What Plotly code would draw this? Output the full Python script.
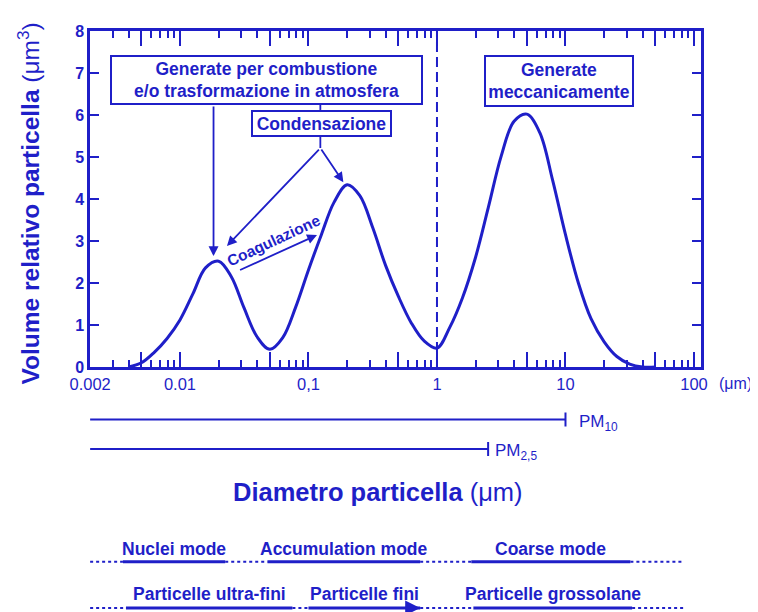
import math
import plotly.graph_objects as go

BLUE = '#1f1fc8'
FONT = 'Liberation Sans, Arial, Helvetica, sans-serif'

# ---- data ----
diameter_um = [0.00398, 0.00501, 0.00631, 0.00794, 0.0100, 0.0126, 0.0158, 0.0200,
               0.0251, 0.0316, 0.0398, 0.0501, 0.0631, 0.0794, 0.100, 0.126,
               0.158, 0.200, 0.251, 0.316, 0.398, 0.501, 0.631, 0.794,
               1.00, 1.26, 1.58, 2.00, 2.51, 3.16, 3.98, 5.01,
               6.31, 7.94, 10.0, 12.6, 15.8, 20.0, 25.1, 31.6, 39.8, 50.1]
rel_volume = [0.0, 0.10, 0.35, 0.68, 1.12, 1.74, 2.36, 2.52,
              2.15, 1.40, 0.72, 0.42, 0.70, 1.42, 2.31, 3.15,
              3.92, 4.34, 4.08, 3.32, 2.42, 1.68, 1.05, 0.62,
              0.45, 0.95, 1.65, 2.62, 3.80, 5.02, 5.85, 6.02,
              5.58, 4.45, 3.15, 2.00, 1.15, 0.60, 0.25, 0.07, 0.0, 0.0]

y_ticks = [0, 1, 2, 3, 4, 5, 6, 7, 8]
x_label_vals = [0.002, 0.01, 0.1, 1, 10, 100]
x_label_text = ['0.002', '0.01', '0,1', '1', '10', '100']
x_half_decades = [0.005, 0.05, 0.5, 5, 50]

pm_names = ['PM<sub>10</sub>', 'PM<sub>2,5</sub>']
pm_cut_um = [10, 2.5]

mode_names = ['Nuclei mode', 'Accumulation mode', 'Coarse mode']
mode_bounds_um = [(0.0036, 0.0225), (0.048, 0.74), (1.85, 32.0)]
size_names = ['Particelle ultra-fini', 'Particelle fini', 'Particelle grossolane']
size_bounds_um = [(0.0038, 0.075), (0.100, 0.74), (1.92, 33.0)]
band_limits_um = (0.002, 83.0)

# ---- geometry (screen pixels of the plot area; page body has an 8px margin) ----
OFF = 8
L, R, T, B = 90, 701, 31, 367
W, H = 758 - OFF, 612 - OFF


def px(xp):
    return (xp - L) / (R - L)


def py(yp):
    return (B - yp) / (B - T)


def lx(v):
    return math.log10(v)


major_vals = sorted(x_label_vals + x_half_decades)
major_text = [x_label_text[x_label_vals.index(v)] if v in x_label_vals else '' for v in major_vals]
minor_vals = []
for dec in [0.001, 0.01, 0.1, 1, 10]:
    for m in [2, 3, 4, 6, 7, 8, 9]:
        v = round(m * dec, 6)
        if 0.002 < v < 100:
            minor_vals.append(v)

fig = go.Figure()
fig.add_trace(go.Scatter(x=diameter_um, y=rel_volume, mode='lines',
                         line=dict(color=BLUE, width=3, shape='spline', smoothing=1.0),
                         hoverinfo='skip'))

shapes = []
annotations = []

# dashed line at 1 um
shapes.append(dict(type='line', xref='x', yref='y', x0=1, x1=1, y0=0, y1=8,
                   line=dict(color=BLUE, width=2, dash='10px,5px')))

# condensation stem + connector between boxes
cx = 0.1237
shapes.append(dict(type='line', xref='x', yref='y', x0=cx, x1=cx, y0=5.214, y1=5.476,
                   line=dict(color=BLUE, width=1.8)))
shapes.append(dict(type='line', xref='x', yref='y', x0=cx, x1=cx, y0=6.12, y1=6.24,
                   line=dict(color=BLUE, width=1.8)))


def arrow(x_tail, y_tail, x_head, y_head, w=1.8):
    annotations.append(dict(x=lx(x_head), y=y_head, ax=lx(x_tail), ay=y_tail,
                            xref='x', yref='y', axref='x', ayref='y', text='',
                            showarrow=True, arrowhead=2, arrowsize=1.1,
                            arrowwidth=w, arrowcolor=BLUE, standoff=0))


arrow(0.01825, 6.24, 0.01825, 2.64)
arrow(cx, 5.214, 0.0232, 2.88)
arrow(cx, 5.214, 0.1868, 4.40)
arrow(0.02858, 2.293, 0.1165, 3.143)

annotations.append(dict(x=lx(0.0532), y=3.02, xref='x', yref='y', text='<b>Coagulazione</b>',
                        showarrow=False, textangle=-25,
                        font=dict(family=FONT, size=15.5, color=BLUE)))


def box(xc, yc, w, h, text):
    annotations.append(dict(x=px(xc), y=py(yc), xref='paper', yref='paper', text=text,
                            showarrow=False, width=w, height=h, align='center',
                            bordercolor=BLUE, borderwidth=2, borderpad=1, bgcolor='white',
                            font=dict(family=FONT, size=17.5, color=BLUE, weight='bold'),
                            xanchor='center', yanchor='middle'))


box(266.5, 80, 307, 44, 'Generate per combustione<br>e/o trasformazione in atmosfera')
box(321.5, 123.5, 135, 21, 'Condensazione')
box(559, 81, 144, 46, 'Generate<br>meccanicamente')

# (um) after 100
annotations.append(dict(x=px(735), y=py(383), xref='paper', yref='paper', text='(μm)',
                        showarrow=False, xanchor='center', yanchor='middle',
                        font=dict(family=FONT, size=16, color=BLUE)))

# PM lines
pm_rows_py = [419.5, 449]
pm_label_px = [577, 493]
for name, cut, yp, lp in zip(pm_names, pm_cut_um, pm_rows_py, pm_label_px):
    shapes.append(dict(type='line', xref='x', yref='paper', x0=0.002, x1=cut,
                       y0=py(yp), y1=py(yp), line=dict(color=BLUE, width=2)))
    shapes.append(dict(type='line', xref='x', yref='paper', x0=cut, x1=cut,
                       y0=py(yp - 7), y1=py(yp + 7), line=dict(color=BLUE, width=2)))
    annotations.append(dict(x=px(lp), y=py(yp + 3), xref='paper', yref='paper', text=name,
                            showarrow=False, xanchor='left', yanchor='middle',
                            font=dict(family=FONT, size=17, color=BLUE)))


# bottom band rows
def band_row(names, bounds, line_py, text_py, arrow_idx=None):
    edges = [band_limits_um[0]]
    for a, b in bounds:
        edges += [a, b]
    edges.append(band_limits_um[1])
    for i in range(len(edges) - 1):
        solid = (i % 2 == 1)
        shapes.append(dict(type='line', xref='x', yref='paper', x0=edges[i], x1=edges[i + 1],
                           y0=py(line_py), y1=py(line_py),
                           line=dict(color=BLUE, width=3 if solid else 2,
                                     dash='solid' if solid else 'dot')))
    for j, (name, (a, b)) in enumerate(zip(names, bounds)):
        annotations.append(dict(x=(lx(a) + lx(b)) / 2, y=py(text_py), xref='x', yref='paper',
                                text='<b>' + name + '</b>', showarrow=False,
                                xanchor='center', yanchor='middle',
                                font=dict(family=FONT, size=17.5, color=BLUE)))
        if arrow_idx == j:
            annotations.append(dict(x=lx(b), y=py(line_py), xref='x', yref='paper', text='',
                                    showarrow=True, ax=-16, ay=0, arrowhead=2, arrowsize=1,
                                    arrowwidth=3, arrowcolor=BLUE, standoff=0))


band_row(mode_names, mode_bounds_um, 561.7, 549)
band_row(size_names, size_bounds_um, 608, 594, arrow_idx=1)

# axis titles
annotations.append(dict(x=px(378), y=py(492), xref='paper', yref='paper',
                        text='<b>Diametro particella</b> (μm)', showarrow=False,
                        xanchor='center', yanchor='middle',
                        font=dict(family=FONT, size=25.5, color=BLUE)))
annotations.append(dict(x=px(28), y=py(203.5), xref='paper', yref='paper',
                        text='<b>Volume relativo particella</b> (μm<sup>3</sup>)',
                        showarrow=False, textangle=-90, xanchor='center', yanchor='middle',
                        font=dict(family=FONT, size=24.5, color=BLUE)))

fig.update_layout(
    width=W, height=H,
    margin=dict(l=L - OFF, r=758 - R, t=T - OFF, b=612 - B),
    plot_bgcolor='white', paper_bgcolor='white', showlegend=False,
    font=dict(family=FONT, color=BLUE),
    shapes=shapes, annotations=annotations,
    xaxis=dict(type='log', range=[-2.7, 2.0545], showline=True, linewidth=2.5,
               linecolor=BLUE, mirror='ticks', ticks='inside', ticklen=15, tickwidth=1.5,
               tickcolor=BLUE, tickmode='array', tickvals=major_vals, ticktext=major_text,
               tickfont=dict(family=FONT, size=16.5, color=BLUE),
               minor=dict(tickmode='array', tickvals=minor_vals, ticks='inside', ticklen=7,
                          tickwidth=1.5, tickcolor=BLUE, showgrid=False),
               showgrid=False, zeroline=False),
    yaxis=dict(range=[0, 8], showline=True, linewidth=2.5, linecolor=BLUE, mirror='ticks',
               ticks='inside', ticklen=9, tickwidth=1.5, tickcolor=BLUE,
               tickmode='array', tickvals=y_ticks,
               tickfont=dict(family=FONT, size=16, color=BLUE, weight='bold'),
               showgrid=False, zeroline=False),
)

fig.write_html('out.html')
